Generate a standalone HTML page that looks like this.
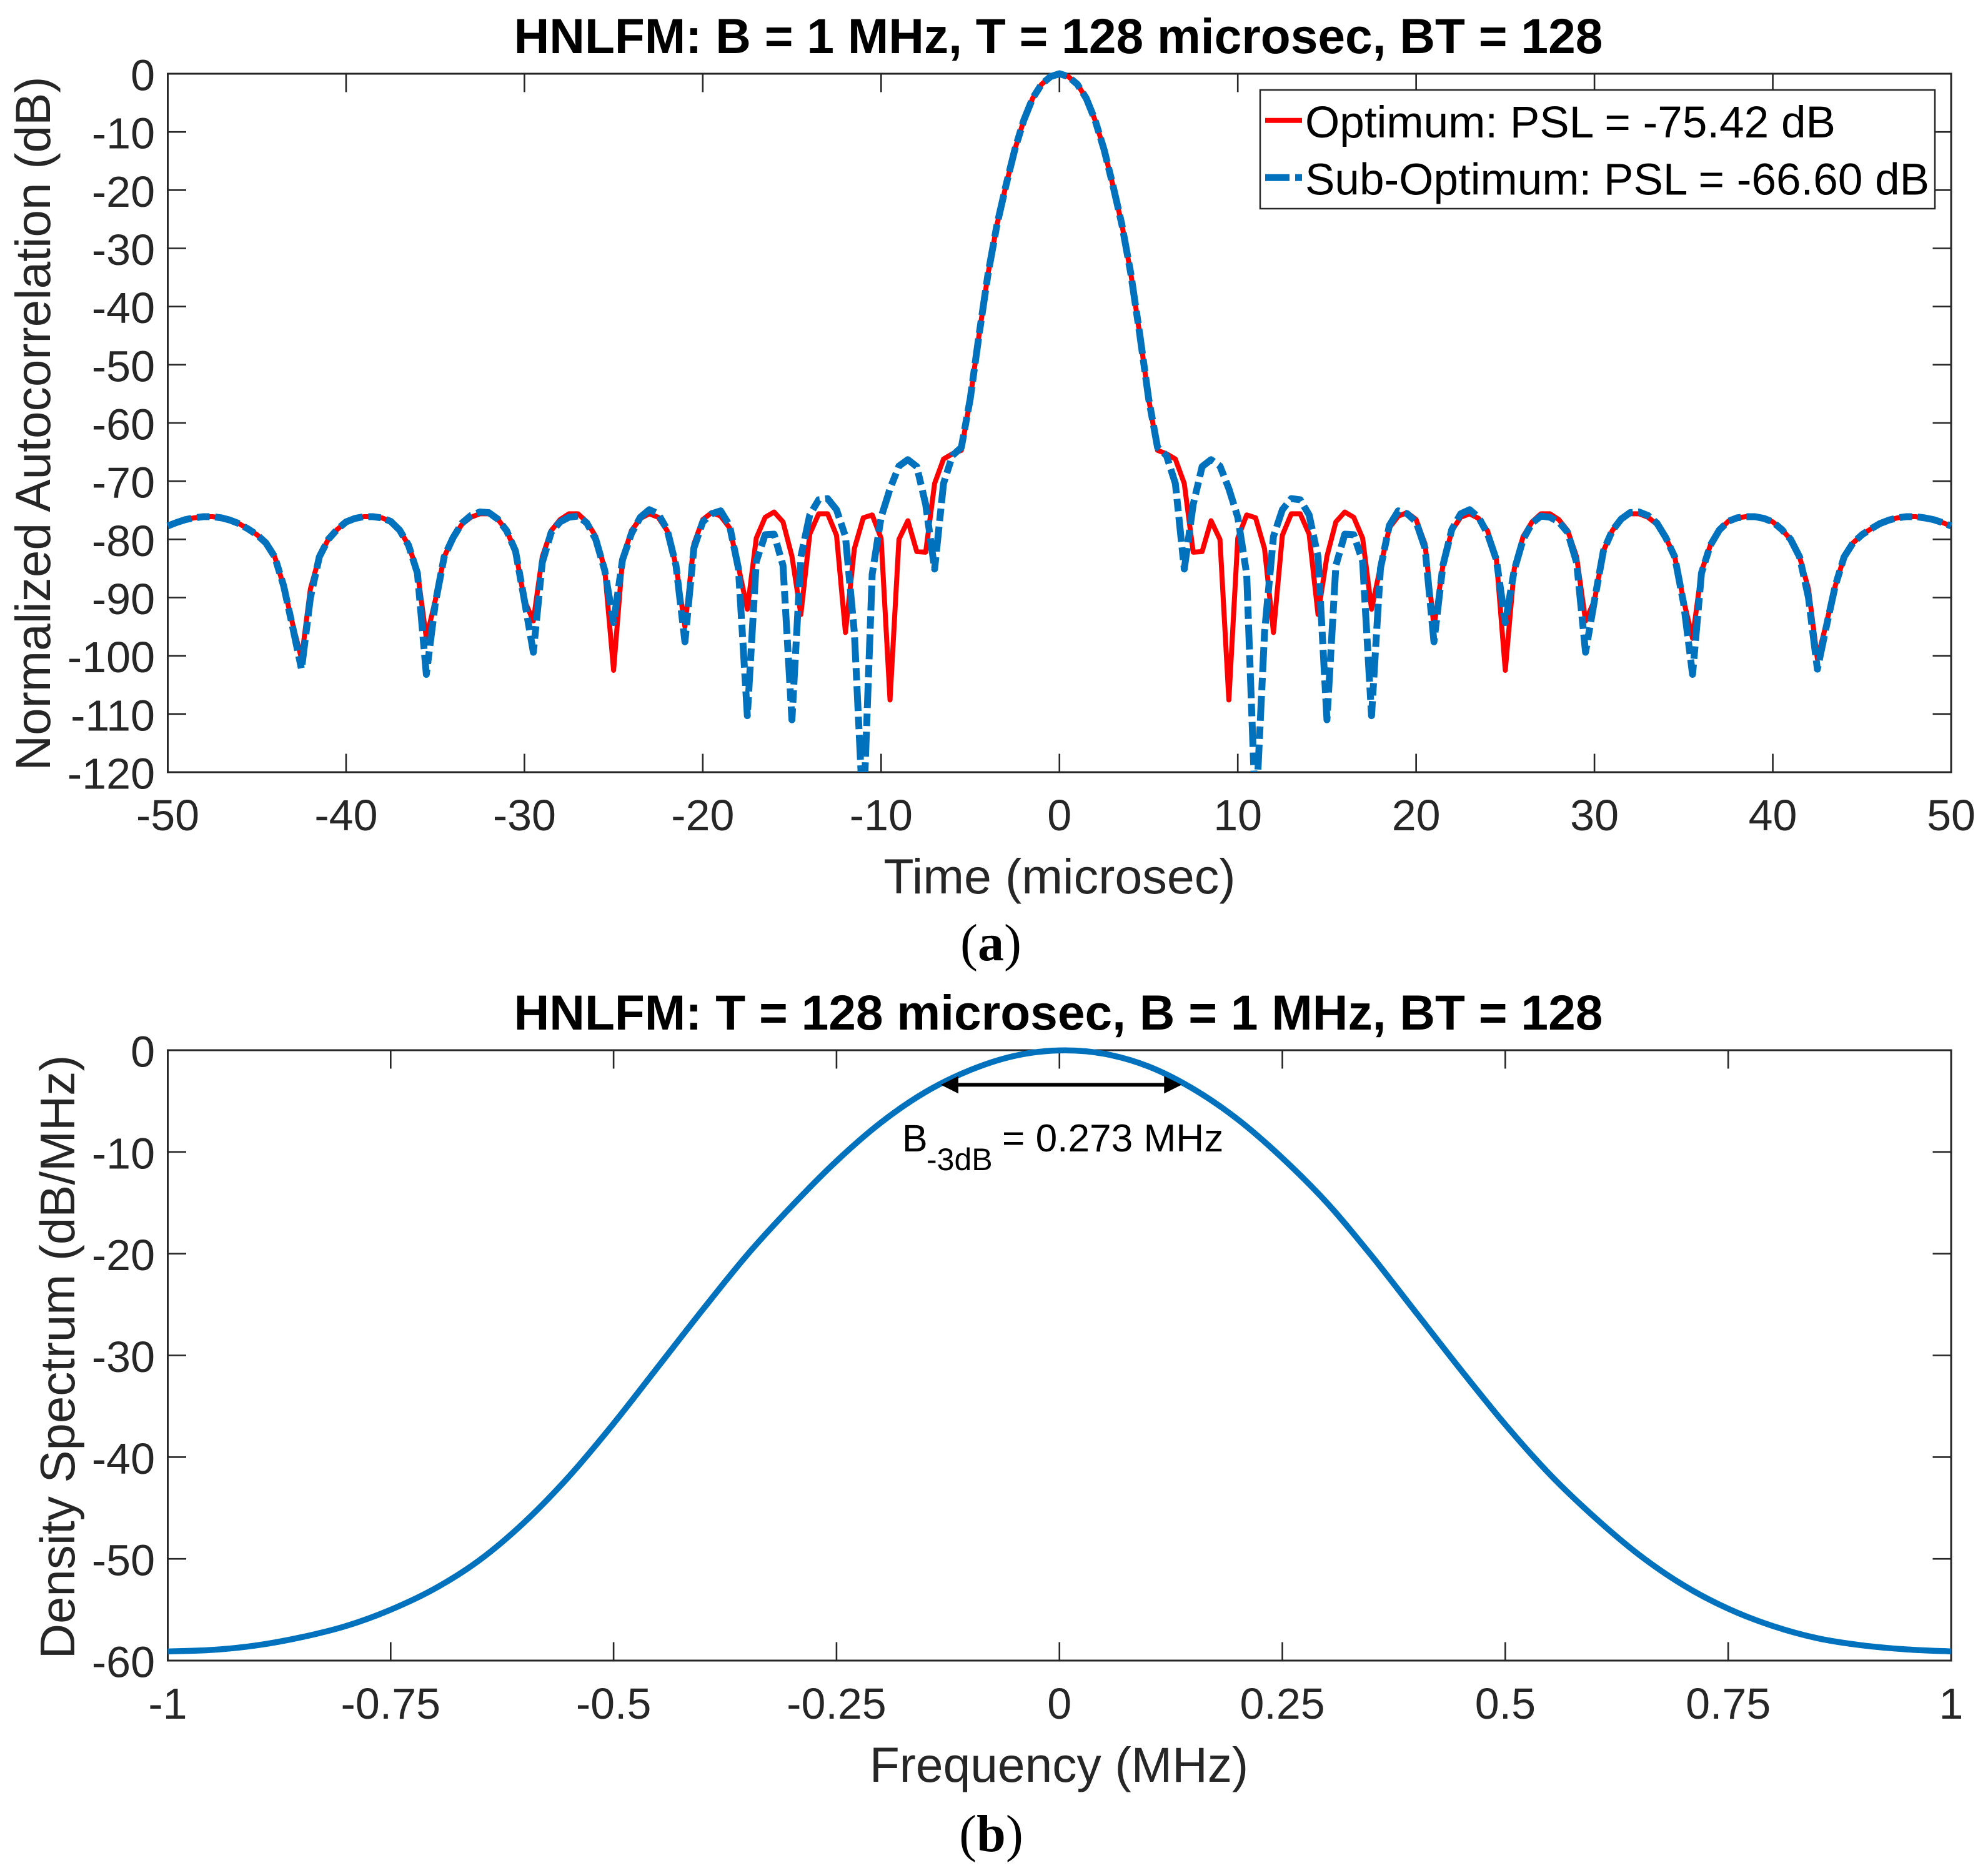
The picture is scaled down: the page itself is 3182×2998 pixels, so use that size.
<!DOCTYPE html>
<html lang="en">
<head>
<meta charset="utf-8">
<title>HNLFM autocorrelation and density spectrum</title>
<style>
html,body{margin:0;padding:0;background:#fff;}
svg{display:block;}
text{font-family:"Liberation Sans",Arial,sans-serif;}
.tick{font-size:70px;fill:#262626;}
.lab{font-size:79px;fill:#262626;}
.ttl{font-size:78.5px;font-weight:bold;fill:#000;text-anchor:middle;}
.leg{font-size:71.1px;fill:#000;}
.cap{font-family:"Liberation Serif",serif;font-size:84px;fill:#000;text-anchor:middle;}
</style>
</head>
<body>
<svg id="figure" xmlns="http://www.w3.org/2000/svg" width="3182" height="2998" viewBox="0 0 3182 2998">
<rect x="0" y="0" width="3182" height="2998" fill="#fff"/>
<defs>
<clipPath id="clipA"><rect x="262" y="110" width="2868" height="1126"/></clipPath>
<clipPath id="clipB"><rect x="262" y="1672" width="2868" height="986"/></clipPath>
</defs>

<text class="ttl" x="1694" y="85">HNLFM: B = 1 MHz, T = 128 microsec, BT = 128</text>
<rect x="268.5" y="118" width="2854.5" height="1118" fill="#fff" stroke="#262626" stroke-width="3"/>
<g id="axesA"></g>
<g id="seriesA" clip-path="url(#clipA)"></g>
<text class="lab" x="1696" y="1430" text-anchor="middle">Time (microsec)</text>
<text class="lab" style="font-size:78.4px" transform="translate(80,678) rotate(-90)" text-anchor="middle">Normalized Autocorrelation (dB)</text>

<g>
<rect x="2017" y="144" width="1080" height="190" fill="#fff" stroke="#262626" stroke-width="2.5"/>
<line x1="2025" y1="192.7" x2="2084" y2="192.7" stroke="#ff0000" stroke-width="8"/>
<text class="leg" x="2089" y="220">Optimum: PSL = -75.42 dB</text>
<line x1="2025" y1="284.3" x2="2084" y2="284.3" stroke="#0072BD" stroke-width="11" stroke-dasharray="39 9 20 9"/>
<text class="leg" x="2089" y="311.3">Sub-Optimum: PSL = -66.60 dB</text>
</g>

<text class="cap" x="1586" y="1537">(<tspan font-weight="bold">a</tspan>)</text>

<text class="ttl" x="1694" y="1648">HNLFM: T = 128 microsec, B = 1 MHz, BT = 128</text>
<rect x="268.5" y="1681" width="2854.5" height="977" fill="#fff" stroke="#262626" stroke-width="3"/>
<g id="axesB"></g>
<g id="seriesB" clip-path="url(#clipB)"></g>
<g id="annotB"></g>
<text font-size="61" fill="#000" x="1444" y="1843">B</text>
<text font-size="50" fill="#000" x="1483" y="1873">-3dB</text>
<text font-size="62.2" fill="#000" x="1604" y="1843" xml:space="preserve">= 0.273 MHz</text>
<text class="lab" style="font-size:78.5px" x="1695" y="2852" text-anchor="middle">Frequency (MHz)</text>
<text class="lab" style="font-size:78px" transform="translate(119,2172) rotate(-90)" text-anchor="middle">Density Spectrum (dB/MHz)</text>
<text class="cap" x="1586.5" y="2963">(<tspan font-weight="bold">b</tspan>)</text>
</svg>

<script>
// ---- Chart (a) data ----
const timeUs = [
-50,-49.5,-49,-48.5,-48,-47.5,-47,-46.5,-46,-45.5,
-45,-44.5,-44,-43.5,-43,-42.5,-42,-41.5,-41,-40.5,
-40,-39.5,-39,-38.5,-38,-37.5,-37,-36.5,-36,-35.5,
-35,-34.5,-34,-33.5,-33,-32.5,-32,-31.5,-31,-30.5,
-30,-29.5,-29,-28.5,-28,-27.5,-27,-26.5,-26,-25.5,
-25,-24.5,-24,-23.5,-23,-22.5,-22,-21.5,-21,-20.5,
-20,-19.5,-19,-18.5,-18,-17.5,-17,-16.5,-16,-15.5,
-15,-14.5,-14,-13.5,-13,-12.5,-12,-11.5,-11,-10.5,
-10,-9.5,-9,-8.5,-8,-7.5,-7,-6.5,-6,-5.5,
-5,-4.5,-4,-3.5,-3,-2.5,-2,-1.5,-1,-0.5,
0,
0.5,1,1.5,2,2.5,3,3.5,4,4.5,5,
5.5,6,6.5,7,7.5,8,8.5,9,9.5,10,
10.5,11,11.5,12,12.5,13,13.5,14,14.5,15,
15.5,16,16.5,17,17.5,18,18.5,19,19.5,20,
20.5,21,21.5,22,22.5,23,23.5,24,24.5,25,
25.5,26,26.5,27,27.5,28,28.5,29,29.5,30,
30.5,31,31.5,32,32.5,33,33.5,34,34.5,35,
35.5,36,36.5,37,37.5,38,38.5,39,39.5,40,
40.5,41,41.5,42,42.5,43,43.5,44,44.5,45,
45.5,46,46.5,47,47.5,48,48.5,49,49.5,50];

const optimumDb = [
-77.7,-77.1,-76.6,-76.3,-76.1,-76.1,-76.3,-76.7,-77.3,-78.2,
-79.2,-80.6,-83,-88,-94.5,-100.5,-88.5,-83,-80,-78.3,
-77,-76.4,-76.1,-76.1,-76.3,-76.9,-78.4,-81,-85.5,-97,
-90.5,-83,-79.7,-77.4,-76.2,-75.6,-75.6,-76.5,-78.5,-82,
-90.5,-94,-83,-78.5,-76.6,-75.6,-75.6,-77,-79.5,-85.1,
-102.5,-83.4,-78.5,-76.4,-75.6,-76.2,-78.5,-84.5,-95,-80.8,
-76.6,-75.4,-76,-78,-84.7,-92,-79.8,-76.2,-75.3,-77,
-82.9,-92.9,-79.1,-75.6,-75.6,-79.3,-96,-81.6,-76.3,-75.8,
-79.8,-107.6,-80,-76.8,-82.1,-82.2,-70.4,-66.2,-65.3,-64.7,
-55.8,-44.7,-34.3,-25.9,-19.2,-13,-8,-4.2,-1.8,-0.5,
0,
-0.5,-1.8,-4.2,-8,-13,-19.2,-25.9,-34.3,-44.7,-55.8,
-64.7,-65.3,-66.2,-70.4,-82.2,-82.1,-76.8,-80,-107.6,-79.8,
-75.8,-76.3,-81.6,-96,-79.3,-75.6,-75.6,-79.1,-92.9,-82.9,
-77,-75.3,-76.2,-79.8,-92,-84.7,-78,-76,-75.4,-76.6,
-80.8,-95,-84.5,-78.5,-76.2,-75.6,-76.4,-78.5,-83.4,-102.5,
-85.1,-79.5,-77,-75.6,-75.6,-76.6,-78.5,-83,-94,-90.5,
-82,-78.5,-76.5,-75.6,-75.6,-76.2,-77.4,-79.7,-83,-90.5,
-97,-85.5,-81,-78.4,-76.9,-76.3,-76.1,-76.1,-76.4,-77,
-78.3,-80,-83,-88.5,-100.5,-94.5,-88,-83,-80.6,-79.2,
-78.2,-77.3,-76.7,-76.3,-76.1,-76.1,-76.3,-76.6,-77.1,-77.7];

const subOptimumDb = [
-77.7,-77.1,-76.6,-76.3,-76.1,-76.1,-76.3,-76.7,-77.3,-78.2,
-79.2,-80.6,-83,-88,-95,-102.3,-90,-83,-80,-78.3,
-77,-76.4,-76.1,-76.1,-76.3,-76.9,-78.4,-81,-85.8,-103.2,
-91,-83,-79.7,-77.2,-75.9,-75.3,-75.4,-76.5,-78.5,-82,
-90.5,-99.4,-84,-78.8,-77,-76.2,-76,-77.2,-80,-85.3,
-94.3,-83.5,-79,-76.2,-74.9,-75.6,-78.3,-84.5,-97.6,-81.5,
-77,-75.6,-75.1,-77.6,-85,-110.3,-83.8,-79.2,-79.1,-84.5,
-111,-83,-75.8,-73.2,-73,-74.9,-79.5,-96,-128,-86,
-76.2,-71.3,-67.4,-66.3,-67.5,-74,-85.1,-70.4,-65.6,-64.2,
-55.8,-44.7,-34.3,-25.9,-19.2,-13,-8,-4.2,-1.8,-0.5,
0,
-0.5,-1.8,-4.2,-8,-13,-19.2,-25.9,-34.3,-44.7,-55.8,
-64.2,-65.6,-70.4,-85.1,-74,-67.5,-66.3,-67.4,-71.3,-76.2,
-86,-128,-96,-79.5,-74.9,-73,-73.2,-75.8,-83,-111,
-84.5,-79.1,-79.2,-83.8,-110.3,-85,-77.6,-75.1,-75.6,-77,
-81.5,-97.6,-84.5,-78.3,-75.6,-74.9,-76.2,-79,-83.5,-94.3,
-85.3,-80,-77.2,-76,-76.2,-77,-78.8,-84,-99.4,-90.5,
-82,-78.5,-76.5,-75.4,-75.3,-75.9,-77.2,-79.7,-83,-91,
-103.2,-85.8,-81,-78.4,-76.9,-76.3,-76.1,-76.1,-76.4,-77,
-78.3,-80,-83,-90,-102.3,-95,-88,-83,-80.6,-79.2,
-78.2,-77.3,-76.7,-76.3,-76.1,-76.1,-76.3,-76.6,-77.1,-77.7];

const xTicksA = [-50,-40,-30,-20,-10,0,10,20,30,40,50];
const yTicksA = [0,-10,-20,-30,-40,-50,-60,-70,-80,-90,-100,-110,-120];

// ---- Chart (b) data ----
const freqMHz = [
-1,-0.95,-0.9,-0.85,-0.8,-0.75,-0.7,-0.65,-0.6,-0.55,
-0.5,-0.45,-0.4,-0.35,-0.3,-0.25,-0.2,-0.15,-0.1,-0.05,
0,0.05,0.1,0.15,0.2,0.25,0.3,0.35,0.4,0.45,
0.5,0.55,0.6,0.65,0.7,0.75,0.8,0.85,0.9,0.95,1];
const spectrumDb = [
-59.1,-58.95,-58.5,-57.7,-56.6,-55,-52.9,-50.1,-46.4,-41.9,
-36.7,-31.1,-25.5,-20.1,-15.3,-10.9,-7.1,-4.1,-1.95,-0.55,
-0.02,-0.35,-1.6,-3.8,-6.8,-10.6,-15,-20.2,-25.8,-31.4,
-36.8,-41.7,-45.9,-49.6,-52.6,-54.9,-56.6,-57.8,-58.5,-58.9,-59.1];
const xTickLabelsB = ["-1","-0.75","-0.5","-0.25","0","0.25","0.5","0.75","1"];
const xTicksB = [-1,-0.75,-0.5,-0.25,0,0.25,0.5,0.75,1];
const yTicksB = [0,-10,-20,-30,-40,-50,-60];
const bandwidthEdges = [-0.133,0.137];
const bandwidthLevel = [-3.4];

const NS = "http://www.w3.org/2000/svg";
const AX = {a:{l:268.5,r:3123,t:118,b:1236,x0:-50,x1:50,y0:-120,y1:0},
            b:{l:268.5,r:3123,t:1681,b:2658,x0:-1,x1:1,y0:-60,y1:0}};
function sx(ax,v){return ax.l+(v-ax.x0)/(ax.x1-ax.x0)*(ax.r-ax.l);}
function sy(ax,v){return ax.b-(v-ax.y0)/(ax.y1-ax.y0)*(ax.b-ax.t);}
function mk(tag,attrs){const e=document.createElementNS(NS,tag);for(const k in attrs){e.setAttribute(k,attrs[k]);}return e;}
function tickLine(parent,x1,y1,x2,y2){const e=mk("line",{x1:x1,y1:y1,x2:x2,y2:y2,stroke:"#262626","stroke-width":2.6});parent.appendChild(e);return e;}
function tickText(parent,x,y,anchor,str){const e=mk("text",{x:x,y:y,"text-anchor":anchor,"class":"tick"});e.textContent=str;parent.appendChild(e);return e;}
function linePath(ax,xs,ys){let d="";for(let i=0;i<xs.length;i++){d+=(i?"L":"M")+sx(ax,xs[i]).toFixed(2)+" "+sy(ax,ys[i]).toFixed(2);}return d;}
function smoothPath(ax,xs,ys){
  const P=xs.map(function(v,i){return [sx(ax,v),sy(ax,ys[i])];});
  let d="M"+P[0][0].toFixed(2)+" "+P[0][1].toFixed(2);
  for(let i=0;i<P.length-1;i++){
    const p0=P[Math.max(i-1,0)],p1=P[i],p2=P[i+1],p3=P[Math.min(i+2,P.length-1)];
    const c1x=p1[0]+(p2[0]-p0[0])/6,c1y=p1[1]+(p2[1]-p0[1])/6;
    const c2x=p2[0]-(p3[0]-p1[0])/6,c2y=p2[1]-(p3[1]-p1[1])/6;
    d+="C"+c1x.toFixed(2)+" "+c1y.toFixed(2)+" "+c2x.toFixed(2)+" "+c2y.toFixed(2)+" "+p2[0].toFixed(2)+" "+p2[1].toFixed(2);
  }
  return d;
}

function drawAxes(ax,group,xs,xlabels,ys){
  const len=29.5;
  xs.forEach(function(v,i){
    const px=sx(ax,v);
    if(i>0&&i<xs.length-1){
      const tb=tickLine(group,px,ax.b,px,ax.b-len);
      
      
      const tt=tickLine(group,px,ax.t,px,ax.t+len);
      
      
    }
    const lb=tickText(group,px,ax.b+93,"middle",xlabels[i]);
    
    
  });
  ys.forEach(function(v,i){
    const py=sy(ax,v);
    if(i>0&&i<ys.length-1){
      const tl=tickLine(group,ax.l,py,ax.l+len,py);
      
      
      const tr=tickLine(group,ax.r,py,ax.r-len,py);
      
      
    }
    const lb=tickText(group,248,py+26.5,"end",String(v));
    
    
  });
}

drawAxes(AX.a,document.getElementById("axesA"),xTicksA,xTicksA.map(String),yTicksA);
drawAxes(AX.b,document.getElementById("axesB"),xTicksB,xTickLabelsB,yTicksB);

const seriesA=document.getElementById("seriesA");
const redLine=mk("path",{d:linePath(AX.a,timeUs,optimumDb),fill:"none",stroke:"#ff0000","stroke-width":8,"stroke-linejoin":"round"});


seriesA.appendChild(redLine);
const blueLine=mk("path",{d:linePath(AX.a,timeUs,subOptimumDb),fill:"none",stroke:"#0072BD","stroke-width":11,"stroke-linejoin":"round","stroke-dasharray":"40 9 20 9"});


seriesA.appendChild(blueLine);

const seriesB=document.getElementById("seriesB");
const specLine=mk("path",{d:smoothPath(AX.b,freqMHz,spectrumDb),fill:"none",stroke:"#0072BD","stroke-width":9.5,"stroke-linejoin":"round"});


seriesB.appendChild(specLine);

const annot=document.getElementById("annotB");
const ax0=sx(AX.b,bandwidthEdges[0]), ax1=sx(AX.b,bandwidthEdges[1]), ay=sy(AX.b,bandwidthLevel[0]);
const shaft=mk("line",{x1:ax0+20,y1:ay,x2:ax1-20,y2:ay,stroke:"#000","stroke-width":6});


annot.appendChild(shaft);
const headL=mk("polygon",{points:ax0+","+ay+" "+(ax0+28)+","+(ay-14)+" "+(ax0+28)+","+(ay+14),fill:"#000"});


annot.appendChild(headL);
const headR=mk("polygon",{points:ax1+","+ay+" "+(ax1-28)+","+(ay-14)+" "+(ax1-28)+","+(ay+14),fill:"#000"});


annot.appendChild(headR);
</script>
</body>
</html>
